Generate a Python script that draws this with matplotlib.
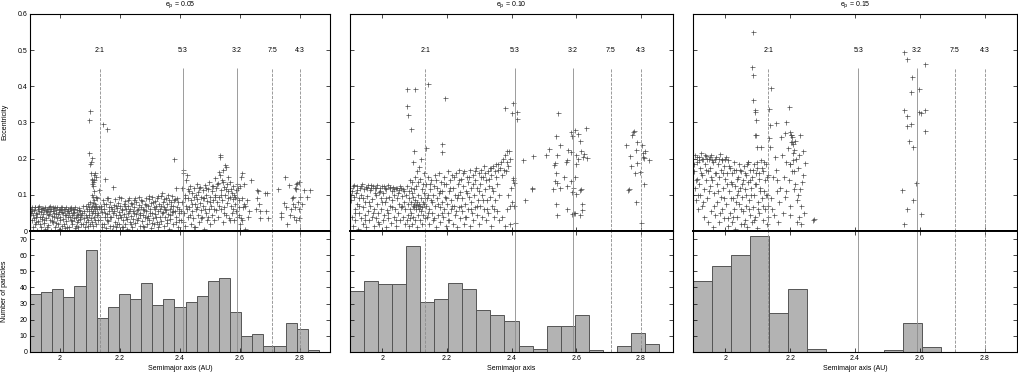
import matplotlib
import numpy as np

matplotlib.use("Agg")
import matplotlib.pyplot as plt

plt.rcParams["font.family"] = ["Liberation Sans", "DejaVu Sans"]
plt.rcParams["font.size"] = 5

# ----- data -----
EP_LABELS = ["0.05", "0.10", "0.15"]
XLABELS = ["Semimajor axis (AU)", "Semimajor axis", "Semimajor axis (AU)"]
RES_LABELS = ["2:1", "5:3", "3:2", "7:5", "4:3"]
RES_A = [2.133, 2.41, 2.59, 2.708, 2.8]
RES_STYLE = ["--", "-", "-", "--", "--"]
XTICKS = [2.0, 2.2, 2.4, 2.6, 2.8]
XTICK_LABELS = ["2", "2.2", "2.4", "2.6", "2.8"]
E_TICKS = [0, 0.1, 0.2, 0.3, 0.4, 0.5, 0.6]
E_TICK_LABELS = ["0", "0.1", "0.2", "0.3", "0.4", "0.5", "0.6"]
N_TICKS = [0, 10, 20, 30, 40, 50, 60, 70]

# histogram counts (bins span 1.9-2.9 AU)
COUNTS_005 = [36, 37, 39, 34, 41, 63, 21, 28, 36, 33, 43, 29, 33, 28,
              31, 35, 44, 46, 25, 10, 11, 4, 4, 18, 14, 1, 0]
COUNTS_010 = [38, 44, 42, 42, 66, 31, 33, 43, 39, 26, 23, 19, 4, 2,
              16, 16, 23, 1, 0, 4, 12, 5, 0]
COUNTS_015 = [44, 53, 60, 72, 24, 39, 2, 0, 0, 0, 1, 18, 3, 0, 0, 0, 0]

# (semimajor axis, eccentricity) of the particles, e_p = 0.05
PTS_005 = [
    (1.902, 0.062), (1.905, 0.03), (1.907, 0.065), (1.909, 0.01), (1.911, 0.045), (1.913, 0.058),
    (1.915, 0.02), (1.917, 0.066), (1.919, 0.038), (1.921, 0.05), (1.923, 0.004), (1.925, 0.062),
    (1.927, 0.028), (1.929, 0.055), (1.931, 0.068), (1.933, 0.04), (1.935, 0.012), (1.937, 0.06),
    (1.939, 0.033), (1.941, 0.064), (1.943, 0.048), (1.945, 0.022), (1.947, 0.058), (1.949, 0.005),
    (1.951, 0.067), (1.953, 0.036), (1.955, 0.052), (1.957, 0.061), (1.959, 0.016), (1.961, 0.044),
    (1.963, 0.065), (1.965, 0.03), (1.967, 0.055), (1.969, 0.002), (1.971, 0.06), (1.973, 0.041),
    (1.975, 0.066), (1.977, 0.025), (1.979, 0.05), (1.981, 0.063), (1.983, 0.01), (1.985, 0.046),
    (1.987, 0.058), (1.989, 0.035), (1.991, 0.067), (1.993, 0.02), (1.995, 0.053), (1.997, 0.005),
    (1.999, 0.062), (2.001, 0.04), (2.003, 0.057), (2.005, 0.015), (2.007, 0.065), (2.009, 0.032),
    (2.011, 0.049), (2.013, 0.06), (2.015, 0.008), (2.017, 0.043), (2.019, 0.066), (2.021, 0.027),
    (2.023, 0.055), (2.025, 0.038), (2.027, 0.062), (2.029, 0.012), (2.031, 0.05), (2.033, 0.064),
    (2.035, 0.03), (2.037, 0.057), (2.039, 0.045), (2.041, 0.018), (2.043, 0.061), (2.045, 0.035),
    (2.047, 0.052), (2.049, 0.007), (2.051, 0.066), (2.053, 0.04), (2.055, 0.024), (2.057, 0.058),
    (2.059, 0.048), (2.061, 0.012), (2.063, 0.063), (2.065, 0.033), (2.067, 0.054), (2.069, 0.02),
    (2.071, 0.045),
    (1.903, 0.05), (1.908, 0.055), (1.912, 0.035), (1.916, 0.067), (1.92, 0.025), (1.924, 0.046),
    (1.928, 0.066), (1.932, 0.018), (1.936, 0.052), (1.94, 0.04), (1.944, 0.063), (1.948, 0.03),
    (1.952, 0.055), (1.956, 0.01), (1.96, 0.06), (1.964, 0.047), (1.968, 0.068), (1.972, 0.028),
    (1.976, 0.056), (1.98, 0.038), (1.984, 0.065), (1.988, 0.022), (1.992, 0.048), (1.996, 0.06),
    (2.0, 0.03), (2.004, 0.066), (2.008, 0.052), (2.012, 0.02), (2.016, 0.06), (2.02, 0.045),
    (2.024, 0.01), (2.028, 0.054), (2.032, 0.04), (2.036, 0.065), (2.04, 0.028), (2.044, 0.05),
    (2.048, 0.062), (2.052, 0.015), (2.056, 0.045), (2.06, 0.03), (2.064, 0.058), (2.068, 0.04),
    (2.072, 0.05), (2.075, 0.02), (2.077, 0.068), (2.079, 0.035), (2.081, 0.055), (2.083, 0.01),
    (2.085, 0.045), (2.087, 0.07), (2.088, 0.025), (2.09, 0.06), (2.091, 0.04), (2.092, 0.015),
    (2.093, 0.075), (2.094, 0.03), (2.095, 0.055), (2.096, 0.065), (2.097, 0.217), (2.098, 0.308),
    (2.098, 0.045), (2.099, 0.185), (2.1, 0.333), (2.1, 0.02), (2.101, 0.08), (2.102, 0.06),
    (2.103, 0.16), (2.103, 0.035), (2.104, 0.19), (2.105, 0.13), (2.105, 0.07), (2.106, 0.145),
    (2.106, 0.05), (2.107, 0.203), (2.107, 0.1), (2.108, 0.14), (2.108, 0.025), (2.109, 0.135),
    (2.109, 0.078), (2.11, 0.125), (2.11, 0.055), (2.111, 0.095), (2.111, 0.015), (2.112, 0.14),
    (2.112, 0.065), (2.113, 0.11), (2.113, 0.04), (2.114, 0.155), (2.114, 0.085), (2.115, 0.06),
    (2.116, 0.03), (2.117, 0.075), (2.118, 0.16), (2.118, 0.05), (2.119, 0.095), (2.12, 0.15),
    (2.12, 0.02), (2.121, 0.07), (2.122, 0.045), (2.123, 0.09), (2.124, 0.06), (2.125, 0.03),
    (2.127, 0.05), (2.129, 0.065), (2.131, 0.112), (2.132, 0.04), (2.142, 0.297), (2.155, 0.283),
    (2.134, 0.03), (2.137, 0.07), (2.139, 0.012), (2.141, 0.052), (2.143, 0.085), (2.145, 0.02),
    (2.147, 0.06), (2.149, 0.04), (2.151, 0.143), (2.152, 0.075), (2.154, 0.008), (2.156, 0.048),
    (2.158, 0.09), (2.16, 0.028), (2.162, 0.066), (2.164, 0.055), (2.166, 0.015), (2.168, 0.08),
    (2.17, 0.038), (2.172, 0.06), (2.174, 0.004), (2.176, 0.123), (2.178, 0.05), (2.18, 0.072),
    (2.182, 0.025), (2.184, 0.088), (2.186, 0.045), (2.188, 0.012), (2.19, 0.064), (2.192, 0.035),
    (2.194, 0.078), (2.196, 0.052), (2.198, 0.02), (2.2, 0.07), (2.202, 0.04), (2.204, 0.092),
    (2.206, 0.01), (2.208, 0.058), (2.21, 0.03), (2.212, 0.075), (2.214, 0.046), (2.216, 0.018),
    (2.218, 0.083), (2.22, 0.062), (2.222, 0.034), (2.224, 0.005), (2.226, 0.07), (2.228, 0.05),
    (2.23, 0.09), (2.232, 0.025), (2.234, 0.06), (2.236, 0.042), (2.238, 0.078), (2.24, 0.012),
    (2.242, 0.055), (2.244, 0.032), (2.246, 0.086), (2.248, 0.065), (2.25, 0.022), (2.252, 0.048),
    (2.254, 0.08), (2.256, 0.004), (2.258, 0.058), (2.26, 0.036), (2.262, 0.072), (2.264, 0.094),
    (2.266, 0.015), (2.268, 0.05), (2.27, 0.066), (2.272, 0.028), (2.274, 0.083), (2.276, 0.045),
    (2.278, 0.06), (2.28, 0.01), (2.282, 0.075), (2.284, 0.038), (2.286, 0.092), (2.288, 0.055),
    (2.29, 0.02), (2.292, 0.068), (2.294, 0.042), (2.296, 0.088), (2.298, 0.03), (2.3, 0.06),
    (2.302, 0.078), (2.304, 0.008), (2.306, 0.05), (2.308, 0.095), (2.31, 0.035), (2.312, 0.065),
    (2.314, 0.018), (2.316, 0.082), (2.318, 0.048), (2.32, 0.07), (2.322, 0.026), (2.324, 0.09),
    (2.326, 0.056), (2.328, 0.012), (2.33, 0.074), (2.332, 0.04), (2.334, 0.062), (2.336, 0.098),
    (2.338, 0.028), (2.34, 0.104), (2.342, 0.052), (2.344, 0.08), (2.346, 0.015), (2.348, 0.066),
    (2.35, 0.038), (2.352, 0.09), (2.354, 0.058), (2.356, 0.022), (2.358, 0.075), (2.36, 0.046),
    (2.362, 0.085), (2.364, 0.005), (2.366, 0.06), (2.368, 0.034), (2.37, 0.08), (2.372, 0.052),
    (2.374, 0.096), (2.376, 0.02), (2.378, 0.07), (2.38, 0.2), (2.382, 0.055), (2.384, 0.088),
    (2.386, 0.04), (2.388, 0.118), (2.39, 0.065), (2.392, 0.012), (2.394, 0.08), (2.396, 0.05),
    (2.398, 0.03),
    (2.135, 0.06), (2.14, 0.02), (2.145, 0.075), (2.15, 0.05), (2.155, 0.03), (2.16, 0.09),
    (2.165, 0.04), (2.17, 0.065), (2.175, 0.015), (2.18, 0.055), (2.185, 0.07), (2.19, 0.02),
    (2.195, 0.095), (2.2, 0.045), (2.205, 0.06), (2.21, 0.012), (2.215, 0.07), (2.22, 0.038),
    (2.225, 0.085), (2.23, 0.055), (2.235, 0.02), (2.24, 0.075), (2.245, 0.05), (2.25, 0.092),
    (2.255, 0.03), (2.26, 0.062), (2.265, 0.045), (2.27, 0.085), (2.275, 0.015), (2.28, 0.058),
    (2.285, 0.072), (2.29, 0.035), (2.295, 0.096), (2.3, 0.05), (2.305, 0.022), (2.31, 0.08),
    (2.315, 0.06), (2.32, 0.04), (2.325, 0.098), (2.33, 0.02), (2.335, 0.07), (2.34, 0.05),
    (2.345, 0.088), (2.35, 0.06), (2.355, 0.03), (2.36, 0.1), (2.365, 0.045), (2.37, 0.07),
    (2.375, 0.055), (2.38, 0.085), (2.385, 0.025), (2.39, 0.092), (2.395, 0.06),
    (2.402, 0.03), (2.405, 0.08), (2.407, 0.12), (2.409, 0.16), (2.411, 0.169), (2.413, 0.05),
    (2.415, 0.1), (2.417, 0.015), (2.419, 0.07), (2.421, 0.142), (2.423, 0.155), (2.425, 0.09),
    (2.427, 0.04), (2.429, 0.11), (2.431, 0.065), (2.433, 0.125), (2.435, 0.02), (2.437, 0.085),
    (2.439, 0.105), (2.441, 0.055), (2.443, 0.035), (2.445, 0.095), (2.447, 0.118), (2.449, 0.075),
    (2.451, 0.01), (2.453, 0.06), (2.455, 0.13), (2.457, 0.088), (2.459, 0.045), (2.461, 0.108),
    (2.463, 0.025), (2.465, 0.078), (2.467, 0.122), (2.469, 0.058), (2.471, 0.095), (2.473, 0.04),
    (2.475, 0.112), (2.477, 0.07), (2.479, 0.005), (2.481, 0.09), (2.483, 0.128), (2.485, 0.05),
    (2.487, 0.1), (2.489, 0.03), (2.491, 0.082), (2.493, 0.115), (2.495, 0.062), (2.497, 0.135),
    (2.499, 0.02), (2.501, 0.095), (2.503, 0.07), (2.505, 0.11), (2.507, 0.045), (2.509, 0.125),
    (2.511, 0.085), (2.513, 0.03), (2.515, 0.1), (2.517, 0.146), (2.519, 0.058), (2.521, 0.118),
    (2.523, 0.08), (2.525, 0.04), (2.527, 0.132), (2.529, 0.095), (2.531, 0.164), (2.532, 0.205),
    (2.533, 0.155), (2.534, 0.21), (2.535, 0.06), (2.537, 0.112), (2.539, 0.14), (2.541, 0.085),
    (2.543, 0.025), (2.544, 0.169), (2.545, 0.122), (2.547, 0.065), (2.549, 0.1), (2.55, 0.183),
    (2.552, 0.045), (2.553, 0.176), (2.555, 0.13), (2.557, 0.078), (2.559, 0.11), (2.561, 0.15),
    (2.563, 0.035), (2.565, 0.095), (2.567, 0.136), (2.569, 0.07), (2.571, 0.115), (2.573, 0.05),
    (2.575, 0.088), (2.577, 0.125), (2.579, 0.03), (2.581, 0.1), (2.583, 0.075), (2.585, 0.112),
    (2.587, 0.055), (2.589, 0.09), (2.591, 0.04), (2.593, 0.12), (2.595, 0.065), (2.597, 0.085),
    (2.599, 0.02),
    (2.404, 0.055), (2.41, 0.025), (2.416, 0.09), (2.422, 0.06), (2.428, 0.115), (2.434, 0.045),
    (2.44, 0.075), (2.446, 0.01), (2.452, 0.1), (2.458, 0.065), (2.464, 0.12), (2.47, 0.035),
    (2.476, 0.09), (2.482, 0.06), (2.488, 0.118), (2.494, 0.04), (2.5, 0.08), (2.506, 0.125),
    (2.512, 0.06), (2.518, 0.095), (2.524, 0.13), (2.53, 0.07), (2.536, 0.1), (2.542, 0.135),
    (2.548, 0.05), (2.554, 0.115), (2.56, 0.09), (2.566, 0.03), (2.572, 0.105), (2.578, 0.06),
    (2.584, 0.095), (2.59, 0.13), (2.596, 0.045),
    (2.603, 0.15), (2.608, 0.16), (2.612, 0.13), (2.6, 0.125), (2.606, 0.09), (2.614, 0.075),
    (2.618, 0.07), (2.622, 0.085), (2.63, 0.055), (2.638, 0.14), (2.602, 0.035), (2.605, 0.03),
    (2.61, 0.065), (2.615, 0.005), (2.625, 0.04), (2.655, 0.113), (2.66, 0.11), (2.658, 0.09),
    (2.662, 0.075), (2.652, 0.06), (2.665, 0.055), (2.668, 0.035), (2.682, 0.105), (2.69, 0.105),
    (2.687, 0.055), (2.692, 0.035), (2.727, 0.117), (2.75, 0.148), (2.764, 0.126), (2.738, 0.05),
    (2.735, 0.04), (2.753, 0.067), (2.755, 0.02), (2.745, 0.078), (2.772, 0.09), (2.778, 0.095),
    (2.785, 0.13), (2.79, 0.133), (2.782, 0.12), (2.776, 0.075), (2.77, 0.06), (2.767, 0.045),
    (2.78, 0.04), (2.787, 0.03), (2.792, 0.08), (2.797, 0.035), (2.8, 0.095), (2.795, 0.06),
    (2.783, 0.065), (2.788, 0.115), (2.805, 0.075), (2.798, 0.135), (2.813, 0.113), (2.833, 0.113),
    (2.824, 0.093),
]

# e_p = 0.10
PTS_010 = [
    (1.901, 0.12), (1.903, 0.085), (1.905, 0.04), (1.907, 0.11), (1.909, 0.015), (1.911, 0.095),
    (1.913, 0.128), (1.915, 0.06), (1.917, 0.03), (1.919, 0.105), (1.921, 0.075), (1.923, 0.125),
    (1.925, 0.005), (1.927, 0.09), (1.929, 0.05), (1.931, 0.118), (1.933, 0.035), (1.935, 0.1),
    (1.937, 0.13), (1.939, 0.065), (1.941, 0.02), (1.943, 0.115), (1.945, 0.08), (1.947, 0.045),
    (1.949, 0.122), (1.951, 0.01), (1.953, 0.098), (1.955, 0.055), (1.957, 0.127), (1.959, 0.03),
    (1.961, 0.112), (1.963, 0.07), (1.965, 0.12), (1.967, 0.04), (1.969, 0.088), (1.971, 0.125),
    (1.973, 0.015), (1.975, 0.06), (1.977, 0.118), (1.979, 0.1), (1.981, 0.035), (1.983, 0.128),
    (1.985, 0.075), (1.987, 0.05), (1.989, 0.108), (1.991, 0.02), (1.993, 0.12), (1.995, 0.09),
    (1.997, 0.062), (1.999, 0.125), (2.001, 0.03), (2.003, 0.105), (2.005, 0.045), (2.007, 0.12),
    (2.009, 0.08), (2.011, 0.012), (2.013, 0.115), (2.015, 0.058), (2.017, 0.126), (2.019, 0.035),
    (2.021, 0.095), (2.023, 0.118), (2.025, 0.068), (2.027, 0.022), (2.029, 0.11), (2.031, 0.085),
    (2.033, 0.122), (2.035, 0.04), (2.037, 0.1), (2.039, 0.06), (2.041, 0.118), (2.043, 0.015),
    (2.045, 0.09), (2.047, 0.12), (2.049, 0.05), (2.051, 0.075), (2.053, 0.112), (2.055, 0.03),
    (2.057, 0.12), (2.059, 0.065), (2.061, 0.098), (2.063, 0.04), (2.065, 0.115), (2.067, 0.08),
    (2.069, 0.02),
    (1.904, 0.1), (1.91, 0.125), (1.916, 0.05), (1.922, 0.112), (1.928, 0.07), (1.934, 0.125),
    (1.94, 0.09), (1.946, 0.03), (1.952, 0.118), (1.958, 0.08), (1.964, 0.128), (1.97, 0.05),
    (1.976, 0.105), (1.982, 0.12), (1.988, 0.025), (1.994, 0.11), (2.0, 0.08), (2.006, 0.125),
    (2.012, 0.09), (2.018, 0.05), (2.024, 0.122), (2.03, 0.065), (2.036, 0.115), (2.042, 0.03),
    (2.048, 0.105), (2.054, 0.125), (2.06, 0.07), (2.066, 0.11),
    (2.071, 0.06), (2.073, 0.1), (2.075, 0.03), (2.077, 0.125), (2.078, 0.393), (2.078, 0.346),
    (2.079, 0.075), (2.08, 0.321), (2.081, 0.045), (2.082, 0.11), (2.083, 0.015), (2.084, 0.09),
    (2.085, 0.14), (2.086, 0.06), (2.087, 0.035), (2.088, 0.12), (2.089, 0.281), (2.089, 0.08),
    (2.09, 0.05), (2.091, 0.105), (2.092, 0.02), (2.093, 0.135), (2.094, 0.07), (2.095, 0.095),
    (2.096, 0.19), (2.096, 0.04), (2.097, 0.22), (2.097, 0.065), (2.098, 0.115), (2.099, 0.075),
    (2.1, 0.393), (2.1, 0.03), (2.101, 0.15), (2.102, 0.085), (2.103, 0.06), (2.104, 0.125),
    (2.105, 0.072), (2.106, 0.01), (2.107, 0.165), (2.108, 0.08), (2.109, 0.045), (2.11, 0.135),
    (2.111, 0.068), (2.112, 0.1), (2.113, 0.06), (2.114, 0.178), (2.115, 0.075), (2.116, 0.03),
    (2.117, 0.145), (2.118, 0.07), (2.119, 0.09), (2.12, 0.055), (2.121, 0.2), (2.122, 0.115),
    (2.123, 0.065), (2.124, 0.02), (2.125, 0.13), (2.126, 0.08), (2.127, 0.045), (2.128, 0.105),
    (2.129, 0.075), (2.13, 0.16), (2.131, 0.035), (2.132, 0.09),
    (2.142, 0.406), (2.134, 0.229), (2.193, 0.367), (2.184, 0.24), (2.186, 0.218),
    (2.134, 0.07), (2.136, 0.13), (2.138, 0.04), (2.14, 0.1), (2.142, 0.15), (2.144, 0.06),
    (2.146, 0.02), (2.148, 0.115), (2.15, 0.085), (2.152, 0.14), (2.154, 0.05), (2.156, 0.1),
    (2.158, 0.03), (2.16, 0.125), (2.162, 0.07), (2.164, 0.155), (2.166, 0.01), (2.168, 0.09),
    (2.17, 0.12), (2.172, 0.045), (2.174, 0.105), (2.176, 0.16), (2.178, 0.065), (2.18, 0.025),
    (2.182, 0.135), (2.184, 0.08), (2.186, 0.11), (2.188, 0.04), (2.19, 0.15), (2.192, 0.06),
    (2.194, 0.095), (2.196, 0.015), (2.198, 0.13), (2.2, 0.075), (2.202, 0.165), (2.204, 0.05),
    (2.206, 0.11), (2.208, 0.03), (2.21, 0.14), (2.212, 0.085), (2.214, 0.06), (2.216, 0.155),
    (2.218, 0.02), (2.22, 0.12), (2.222, 0.07), (2.224, 0.1), (2.226, 0.045), (2.228, 0.16),
    (2.23, 0.09), (2.232, 0.01), (2.234, 0.13), (2.236, 0.065), (2.238, 0.17), (2.24, 0.035),
    (2.242, 0.108), (2.244, 0.145), (2.246, 0.055), (2.248, 0.09), (2.25, 0.125), (2.252, 0.02),
    (2.254, 0.165), (2.256, 0.075), (2.258, 0.11), (2.26, 0.04), (2.262, 0.15), (2.264, 0.06),
    (2.266, 0.135), (2.268, 0.095), (2.27, 0.015), (2.272, 0.17), (2.274, 0.08), (2.276, 0.118),
    (2.278, 0.05), (2.28, 0.155), (2.282, 0.03), (2.284, 0.1), (2.286, 0.14), (2.288, 0.065),
    (2.29, 0.175), (2.292, 0.045), (2.294, 0.12), (2.296, 0.085), (2.298, 0.16), (2.3, 0.02),
    (2.302, 0.13), (2.304, 0.07), (2.306, 0.17), (2.308, 0.1), (2.31, 0.04), (2.312, 0.15),
    (2.314, 0.06), (2.316, 0.18), (2.318, 0.115), (2.32, 0.03), (2.322, 0.14), (2.324, 0.085),
    (2.326, 0.165), (2.328, 0.05), (2.33, 0.125), (2.332, 0.175), (2.334, 0.095), (2.336, 0.015),
    (2.338, 0.155), (2.34, 0.07), (2.342, 0.18), (2.344, 0.11), (2.346, 0.04), (2.348, 0.165),
    (2.35, 0.085), (2.352, 0.185), (2.354, 0.13), (2.356, 0.055), (2.358, 0.17), (2.36, 0.1),
    (2.362, 0.03), (2.364, 0.175),
    (2.137, 0.09), (2.143, 0.05), (2.149, 0.13), (2.155, 0.08), (2.161, 0.035), (2.167, 0.14),
    (2.173, 0.075), (2.179, 0.11), (2.185, 0.05), (2.191, 0.13), (2.197, 0.09), (2.203, 0.03),
    (2.209, 0.12), (2.215, 0.07), (2.221, 0.15), (2.227, 0.055), (2.233, 0.1), (2.239, 0.14),
    (2.245, 0.07), (2.251, 0.16), (2.257, 0.04), (2.263, 0.105), (2.269, 0.15), (2.275, 0.06),
    (2.281, 0.13), (2.287, 0.165), (2.293, 0.07), (2.299, 0.11), (2.305, 0.15), (2.311, 0.085),
    (2.317, 0.16), (2.323, 0.06), (2.329, 0.145), (2.335, 0.175), (2.341, 0.12), (2.347, 0.06),
    (2.353, 0.15), (2.359, 0.185),
    (2.368, 0.19), (2.371, 0.155), (2.374, 0.2), (2.376, 0.17), (2.379, 0.21), (2.381, 0.341),
    (2.383, 0.165), (2.385, 0.19), (2.387, 0.22), (2.389, 0.18), (2.392, 0.22), (2.394, 0.2),
    (2.396, 0.07), (2.398, 0.12), (2.402, 0.327), (2.404, 0.14), (2.406, 0.355), (2.408, 0.07),
    (2.41, 0.022), (2.416, 0.328), (2.417, 0.311), (2.37, 0.04), (2.385, 0.06), (2.39, 0.1),
    (2.395, 0.02), (2.38, 0.015), (2.405, 0.146), (2.407, 0.134), (2.4, 0.08),
    (2.436, 0.196), (2.467, 0.206), (2.443, 0.087), (2.462, 0.118), (2.464, 0.115),
    (2.544, 0.325), (2.539, 0.263), (2.583, 0.274), (2.597, 0.279), (2.606, 0.267), (2.631, 0.284),
    (2.588, 0.263), (2.611, 0.25), (2.549, 0.238), (2.515, 0.226), (2.506, 0.21), (2.542, 0.21),
    (2.575, 0.224), (2.583, 0.219), (2.614, 0.22), (2.6, 0.21), (2.623, 0.214), (2.633, 0.203),
    (2.62, 0.205), (2.571, 0.196), (2.568, 0.191), (2.606, 0.2), (2.536, 0.187), (2.533, 0.183),
    (2.6, 0.184), (2.539, 0.161), (2.562, 0.15), (2.583, 0.138), (2.597, 0.15), (2.536, 0.137),
    (2.541, 0.132), (2.549, 0.12), (2.53, 0.115), (2.573, 0.124), (2.59, 0.118), (2.614, 0.115),
    (2.611, 0.112), (2.6, 0.102), (2.588, 0.108), (2.539, 0.075), (2.618, 0.075), (2.571, 0.06),
    (2.619, 0.058), (2.542, 0.044), (2.587, 0.047), (2.593, 0.049), (2.597, 0.05), (2.611, 0.045),
    (2.753, 0.238), (2.777, 0.275), (2.78, 0.277), (2.773, 0.266), (2.789, 0.247), (2.804, 0.238),
    (2.786, 0.224), (2.768, 0.207), (2.806, 0.217), (2.814, 0.221), (2.808, 0.205), (2.811, 0.203),
    (2.827, 0.196), (2.789, 0.189), (2.771, 0.18), (2.797, 0.164), (2.783, 0.159), (2.809, 0.129),
    (2.765, 0.115), (2.762, 0.113), (2.784, 0.079), (2.801, 0.021),
]

# e_p = 0.15
PTS_015 = [
    (1.901, 0.2), (1.903, 0.165), (1.905, 0.12), (1.907, 0.21), (1.909, 0.085), (1.911, 0.19),
    (1.913, 0.145), (1.915, 0.06), (1.917, 0.205), (1.919, 0.13), (1.921, 0.175), (1.923, 0.1),
    (1.925, 0.215), (1.927, 0.07), (1.929, 0.155), (1.931, 0.198), (1.933, 0.115), (1.935, 0.04),
    (1.937, 0.185), (1.939, 0.14), (1.941, 0.208), (1.943, 0.09), (1.945, 0.165), (1.947, 0.025),
    (1.949, 0.2), (1.951, 0.125), (1.953, 0.175), (1.955, 0.055), (1.957, 0.21), (1.959, 0.14),
    (1.961, 0.01), (1.963, 0.19), (1.965, 0.105), (1.967, 0.16), (1.969, 0.045), (1.971, 0.205),
    (1.973, 0.13), (1.975, 0.08), (1.977, 0.185), (1.979, 0.025), (1.981, 0.15), (1.983, 0.212),
    (1.985, 0.095), (1.987, 0.17), (1.989, 0.06), (1.991, 0.2), (1.993, 0.12), (1.995, 0.035),
    (1.997, 0.18), (1.999, 0.145), (2.001, 0.205), (2.003, 0.075), (2.005, 0.16), (2.007, 0.015),
    (2.009, 0.195), (2.011, 0.11), (2.013, 0.05), (2.015, 0.175), (2.017, 0.135), (2.019, 0.025),
    (2.021, 0.16), (2.023, 0.09), (2.025, 0.19), (2.027, 0.06), (2.029, 0.125), (2.031, 0.005),
    (2.033, 0.17), (2.035, 0.1), (2.037, 0.04), (2.039, 0.15), (2.041, 0.185), (2.043, 0.075),
    (2.045, 0.12), (2.047, 0.02), (2.049, 0.165), (2.051, 0.095), (2.053, 0.055), (2.055, 0.14),
    (2.057, 0.18), (2.059, 0.03), (2.061, 0.115), (2.063, 0.07), (2.065, 0.155), (2.067, 0.01),
    (2.069, 0.135), (2.071, 0.19), (2.073, 0.085), (2.075, 0.045), (2.077, 0.17), (2.079, 0.12),
    (2.081, 0.025), (2.083, 0.15), (2.085, 0.065), (2.087, 0.185), (2.089, 0.1), (2.091, 0.04),
    (2.093, 0.16), (2.095, 0.13), (2.097, 0.008), (2.099, 0.175), (2.101, 0.08), (2.103, 0.145),
    (2.105, 0.05), (2.107, 0.12), (2.109, 0.195), (2.111, 0.233), (2.113, 0.09), (2.115, 0.03),
    (2.117, 0.165), (2.119, 0.11), (2.121, 0.06), (2.123, 0.14), (2.125, 0.185), (2.127, 0.02),
    (2.129, 0.1), (2.131, 0.155), (2.133, 0.07),
    (1.904, 0.185), (1.908, 0.14), (1.912, 0.205), (1.916, 0.1), (1.92, 0.195), (1.924, 0.16),
    (1.928, 0.2), (1.932, 0.08), (1.936, 0.21), (1.94, 0.17), (1.944, 0.2), (1.948, 0.11),
    (1.952, 0.205), (1.956, 0.15), (1.96, 0.195), (1.964, 0.07), (1.968, 0.2), (1.972, 0.16),
    (1.976, 0.11), (1.98, 0.2), (1.984, 0.05), (1.988, 0.195), (1.992, 0.16), (1.996, 0.09),
    (2.0, 0.2), (2.004, 0.13), (2.008, 0.035), (2.012, 0.18), (2.016, 0.09), (2.02, 0.13),
    (2.024, 0.04), (2.028, 0.17), (2.032, 0.08), (2.036, 0.145), (2.04, 0.11), (2.044, 0.17),
    (2.048, 0.06), (2.052, 0.13), (2.056, 0.02), (2.06, 0.16), (2.064, 0.1), (2.068, 0.185),
    (2.072, 0.06), (2.076, 0.14), (2.08, 0.1), (2.084, 0.17), (2.088, 0.03), (2.092, 0.13),
    (2.096, 0.19), (2.1, 0.06), (2.104, 0.16), (2.108, 0.11), (2.112, 0.175), (2.116, 0.07),
    (2.12, 0.19), (2.124, 0.1), (2.128, 0.15), (2.132, 0.04),
    (2.084, 0.549), (2.083, 0.453), (2.084, 0.431), (2.086, 0.361), (2.09, 0.335), (2.092, 0.33),
    (2.093, 0.307), (2.09, 0.265), (2.093, 0.265), (2.096, 0.233), (2.07, 0.19),
    (2.14, 0.395), (2.135, 0.337), (2.137, 0.293), (2.135, 0.258), (2.137, 0.233), (2.197, 0.344),
    (2.187, 0.3), (2.156, 0.298), (2.198, 0.275), (2.201, 0.265), (2.203, 0.265), (2.201, 0.245),
    (2.206, 0.245), (2.21, 0.24), (2.212, 0.225), (2.21, 0.215), (2.23, 0.265), (2.183, 0.27),
    (2.172, 0.26), (2.175, 0.21), (2.186, 0.19), (2.198, 0.185), (2.2, 0.185), (2.245, 0.187),
    (2.206, 0.165), (2.213, 0.165), (2.236, 0.135), (2.23, 0.115), (2.225, 0.1), (2.22, 0.087),
    (2.198, 0.069), (2.198, 0.045), (2.228, 0.04), (2.233, 0.02), (2.27, 0.03), (2.222, 0.025),
    (2.188, 0.11), (2.185, 0.095), (2.157, 0.17), (2.16, 0.14), (2.158, 0.11), (2.152, 0.205),
    (2.145, 0.06), (2.15, 0.045), (2.165, 0.08), (2.17, 0.12), (2.18, 0.15), (2.215, 0.13),
    (2.24, 0.155), (2.218, 0.2), (2.228, 0.21), (2.192, 0.23), (2.205, 0.26), (2.215, 0.25),
    (2.208, 0.195), (2.225, 0.175), (2.238, 0.22), (2.232, 0.07), (2.242, 0.05), (2.212, 0.115),
    (2.195, 0.14), (2.178, 0.05), (2.163, 0.025), (2.14, 0.09), (2.148, 0.15), (2.273, 0.033),
    (2.551, 0.494), (2.561, 0.475), (2.616, 0.462), (2.576, 0.426), (2.597, 0.393), (2.574, 0.384),
    (2.55, 0.334), (2.597, 0.33), (2.603, 0.325), (2.616, 0.334), (2.56, 0.318), (2.572, 0.297),
    (2.56, 0.29), (2.615, 0.276), (2.566, 0.25), (2.58, 0.232), (2.587, 0.132), (2.545, 0.112),
    (2.58, 0.085), (2.561, 0.06), (2.603, 0.048), (2.55, 0.018),
]

# ----- layout (pixel boxes of the reference) -----
W, H = 1018, 373
COLS = [(30, 330), (350, 673), (693, 1017)]
TOP, MID, BOT = 14, 231, 352

fig = plt.figure(figsize=(W / 100, H / 100), dpi=100)


def px_axes(x0, y0, x1, y1):
    return fig.add_axes([x0 / W, 1 - y1 / H, (x1 - x0) / W, (y1 - y0) / H])


def style_axes(ax):
    ax.tick_params(direction="in", length=3, width=0.5, top=True, right=True,
                   pad=2, labelsize=5)
    for sp in ax.spines.values():
        sp.set_linewidth(0.8)


panels = [(PTS_005, COUNTS_005), (PTS_010, COUNTS_010), (PTS_015, COUNTS_015)]

for i, ((pts, counts), (x0, x1)) in enumerate(zip(panels, COLS)):
    a, e = np.array(pts).T

    # top: eccentricity vs semimajor axis
    ax = px_axes(x0, TOP, x1, MID)
    style_axes(ax)
    ax.plot(a, e, "+", color="0.3", ms=3.6, mew=0.5)
    for ra, lab, ls in zip(RES_A, RES_LABELS, RES_STYLE):
        ax.vlines(ra, 0, 0.45, color="0.55", lw=0.6, ls=ls)
        ax.text(ra, 0.5, lab, ha="center", va="center", fontsize=5)
    ax.set_xlim(1.9, 2.9)
    ax.set_ylim(0, 0.6)
    ax.set_xticks(XTICKS)
    ax.set_yticks(E_TICKS)
    ax.tick_params(labelbottom=False)
    if i == 0:
        ax.set_yticklabels(E_TICK_LABELS)
    else:
        ax.tick_params(labelleft=False)
    ax.spines["bottom"].set_linewidth(1.4)

    # bottom: histogram of particles
    hx = px_axes(x0, MID, x1, BOT)
    style_axes(hx)
    edges = np.linspace(1.9, 2.9, len(counts) + 1)
    hx.bar(edges[:-1], counts, width=np.diff(edges), align="edge",
           color="#b3b3b3", edgecolor="#555555", lw=0.7)
    for ra, ls in zip(RES_A, RES_STYLE):
        hx.axvline(ra, color="0.55", lw=0.6, ls=ls)
    hx.set_xlim(1.9, 2.9)
    hx.set_ylim(0, 75)
    hx.set_xticks(XTICKS)
    hx.set_xticklabels(XTICK_LABELS)
    hx.set_yticks(N_TICKS)
    if i > 0:
        hx.tick_params(labelleft=False)
    hx.spines["top"].set_linewidth(1.4)

    xc = (x0 + x1) / 2 / W
    fig.text(xc, 1 - 5 / H, r"e$_\mathrm{p}$ = " + EP_LABELS[i],
             ha="center", va="center", fontsize=5)
    fig.text(xc, 1 - 369 / H, XLABELS[i], ha="center", va="center", fontsize=5)

fig.text(5 / W, 1 - 122 / H, "Eccentricity", rotation=90, ha="center", va="center", fontsize=5)
fig.text(5 / W, 1 - 291 / H, "Number of particles", rotation=90, ha="center", va="center",
         fontsize=5)

fig.savefig("out.png", dpi=100)
